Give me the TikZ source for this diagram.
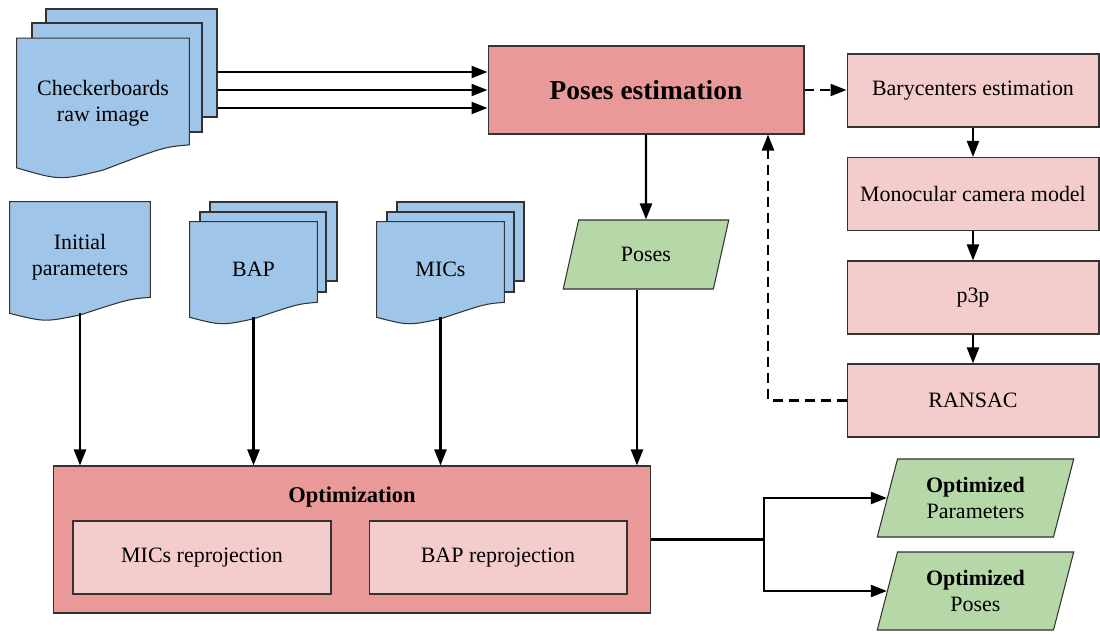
\documentclass[tikz,border=0pt]{standalone}
\usepackage{fontspec}
\setmainfont{Liberation Serif}
\usepackage{tikz}
\usetikzlibrary{positioning,arrows.meta,calc,shapes.geometric}

\definecolor{docblue}{HTML}{9FC5E8}
\definecolor{estred}{HTML}{EA9999}
\definecolor{steppink}{HTML}{F4CCCC}
\definecolor{datagreen}{HTML}{B6D7A8}
\definecolor{edgegray}{HTML}{333333}

% front page of a document: name, position, width, height, rise of the wavy edge, text
\newcommand{\docfront}[6]{%
  \node[minimum width=#3, minimum height=#4, inner sep=0pt] (#1) at #2 {};
  \filldraw[sheet] (#1.north west) -- (#1.north east) -- ($(#1.south east)+(0,-#5)$)
    .. controls ($(#1.south west)!0.85!(#1.south east)+(0,-0.9*#5)$) .. ($(#1.south)+(0,0.1*#5)$)
    .. controls ($(#1.south west)!0.25!(#1.south east)+(0,0.55*#5)$) .. (#1.south west) -- cycle;
  \node[align=center] (#1-text) at (#1) {#6};
}

\begin{document}
\begin{tikzpicture}[
  x=0.02cm, y=-0.02cm,
  font=\fontsize{12.5}{15}\selectfont,
  sheet/.style={draw=edgegray, fill=docblue, line width=0.6pt},
  estbox/.style={draw=edgegray, fill=estred, line width=0.6pt, align=center},
  stepbox/.style={draw=edgegray, fill=steppink, line width=0.6pt, minimum width=5.04cm, minimum height=1.46cm},
  databox/.style={draw=edgegray, fill=datagreen, line width=0.6pt, trapezium, trapezium left angle=75,
    trapezium right angle=105, trapezium stretches=true, align=center},
  arr/.style={-{Triangle[length=3.2mm, width=2.4mm]}, line width=1.3pt},
  darr/.style={arr, dash pattern=on 2mm off 1.2mm}]
\useasboundingbox (0,0) rectangle (1100,633);

% input documents
\node[sheet, minimum width=3.42cm, minimum height=2.16cm] (cbback) at (131.5,63) {};
\node[sheet, minimum width=3.40cm, minimum height=2.18cm] (cbmid) at (117,77.5) {};
\docfront{cbfront}{(103,103)}{3.44cm}{2.58cm}{23}{Checkerboards\\raw image}

\docfront{initpar}{(80,257.5)}{2.8cm}{2.22cm}{16}{Initial\\parameters}

\node[sheet, minimum width=2.54cm, minimum height=1.58cm] (bapback) at (273.5,241.5) {};
\node[sheet, minimum width=2.52cm, minimum height=1.6cm] (bapmid) at (263,252) {};
\docfront{bapfront}{(253.5,269.5)}{2.54cm}{1.9cm}{15}{BAP}

\node[sheet, minimum width=2.54cm, minimum height=1.58cm] (micback) at (460.5,241.5) {};
\node[sheet, minimum width=2.54cm, minimum height=1.6cm] (micmid) at (450.5,252) {};
\docfront{micfront}{(440.5,269.5)}{2.54cm}{1.9cm}{15}{MICs}

% pose estimation
\node[estbox, minimum width=6.32cm, minimum height=1.76cm, font=\fontsize{15.6}{18}\selectfont\bfseries] (posest) at (646,90) {Poses estimation};
\node[stepbox] (bary) at (973,90.5) {Barycenters estimation};
\node[stepbox] (mono) at (973,194) {Monocular camera model};
\node[stepbox] (p3p) at (973,297.5) {p3p};
\node[stepbox] (ransac) at (973,400.5) {RANSAC};
\node[databox, minimum width=3.32cm, minimum height=1.38cm] (poses) at (646,254.5) {Poses};

% optimization
\node[estbox, minimum width=11.96cm, minimum height=2.94cm] (opt) at (352,539.5) {};
\node[font=\fontsize{12.8}{15}\selectfont\bfseries] (opttitle) at (352,497) {Optimization};
\node[stepbox, minimum width=5.16cm] (micrep) at (202,557.5) {MICs reprojection};
\node[stepbox, minimum width=5.16cm] (baprep) at (498,557.5) {BAP reprojection};
\node[databox, minimum width=3.94cm, minimum height=1.56cm] (optpar) at (975.5,498) {\textbf{Optimized}\\Parameters};
\node[databox, minimum width=3.94cm, minimum height=1.56cm] (optpose) at (975.5,591) {\textbf{Optimized}\\Poses};

% connectors
\foreach \dy in {-18,0,18}
  \draw[arr] ($(posest.west -| cbback.east)+(0,\dy)$) -- ($(posest.west)+(0,\dy)$);
\draw[darr] (posest.east) -- (posest.east -| bary.west);
\draw[arr] (bary) -- (mono);
\draw[arr] (mono) -- (p3p);
\draw[arr] (p3p) -- (ransac);
\coordinate (loopback) at (768,400.5);
\draw[darr] (ransac.west) -- (loopback) -- (loopback |- posest.south);
\draw[arr] (posest) -- (poses);
\coordinate (posesout) at ($(poses.south)+(-9,0)$);
\draw[arr] (posesout) -- (posesout |- opt.north);
\foreach \src in {initpar,bapfront,micfront}
  \draw[arr] (\src.south) -- (\src.south |- opt.north);
\coordinate (split) at (764,539.5);
\draw[arr] (opt.east) -- (split) |- (optpar.west);
\draw[arr] (split) |- (optpose.west);
\end{tikzpicture}
\end{document}
